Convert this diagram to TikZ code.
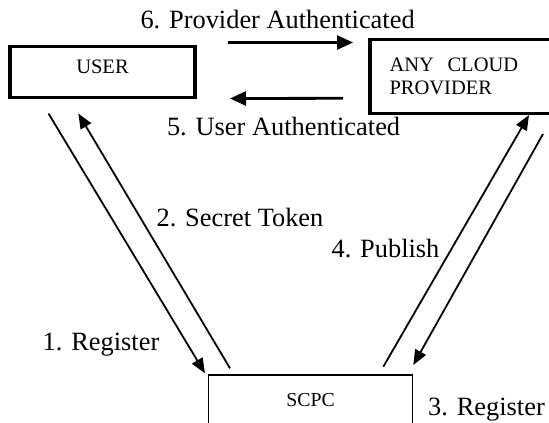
\documentclass[tikz,border=0pt]{standalone}
\usepackage{fontspec}
\setmainfont{Liberation Serif}
\usetikzlibrary{arrows.meta}

\begin{document}
\begin{tikzpicture}[x=1pt,y=-1pt,
    box/.style={draw,line width=3.5pt,outer sep=0pt,inner ysep=0pt,font=\fontsize{20.5}{23.4}\selectfont},
    thinbox/.style={draw,line width=1.2pt,outer sep=0pt,inner ysep=0pt,font=\fontsize{19.8}{23}\selectfont},
    lbl/.style={anchor=base,inner sep=0pt,font=\fontsize{26.4}{30}\selectfont},
    harrow/.style={line width=2.8pt,-{Triangle[length=16pt,width=14pt]}},
    darrow/.style={line width=1.8pt,-{Triangle[length=15pt,width=12pt]}},
    dline/.style={line width=1.8pt}]
    \useasboundingbox (0,0) rectangle (549,423);
    \node[box,anchor=base,minimum width=185pt,text height=26.5pt,text depth=24.5pt] (user) at (102.5,73) {USER};
    \node[box,anchor=north west,align=left,text width=170pt,inner xsep=19.5pt,minimum height=73.8pt] (cloud) at (370,39.5) {ANY\ \ CLOUD\\PROVIDER};
    \node[thinbox,anchor=base,minimum width=204.4pt,text height=31.7pt,text depth=30pt] (scpc) at (310.5,406.7) {SCPC};
    \node[lbl] (lab6) at (277.6,28.3) {6. Provider Authenticated};
    \node[lbl] (lab5) at (283.6,135) {5. User Authenticated};
    \node[lbl] (lab2) at (240,226.7) {2. Secret Token};
    \node[lbl] (lab4) at (385.5,257) {4. Publish};
    \node[lbl] (lab1) at (101,350) {1. Register};
    \node[lbl] (lab3) at (486.5,415.5) {3. Register};
    \draw[harrow] ([shift={(33,-4)}]user.north east) -- ([shift={(-17,3)}]cloud.north west);
    \draw[harrow] ([shift={(-27,-15)}]cloud.south west) -- ([shift={(35,1)}]user.south east);
    \draw[darrow] ([shift={(38.5,16)}]user.south west) -- ([shift={(-3.3,-1.7)}]scpc.north west);
    \draw[darrow] ([shift={(21.7,-6.7)}]scpc.north west) -- ([shift={(68.3,16)}]user.south west);
    \draw[darrow] ([shift={(-29.4,-8.3)}]scpc.north east) -- ([shift={(159,1.7)}]cloud.south west);
    \draw[darrow] ([shift={(173,20.7)}]cloud.south west) -- ([shift={(0.6,-10)}]scpc.north east);
\end{tikzpicture}
\end{document}
